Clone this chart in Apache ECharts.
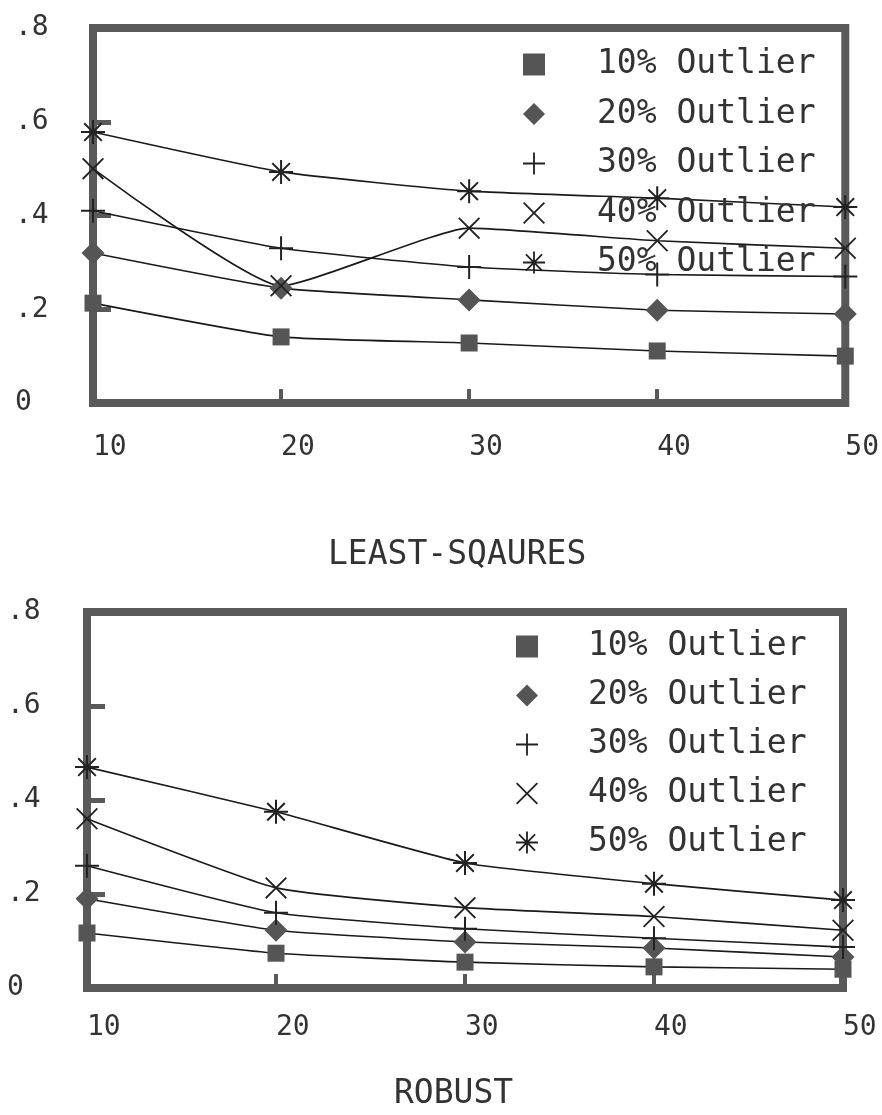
<html>
<head>
    <meta charset="utf-8">
    <title>Outlier</title>
    <script src="https://cdn.jsdelivr.net/npm/echarts@6/dist/echarts.min.js"></script>
</head>
<body style="margin:0;background:#fff;">
    <div id="main" style="width:882px;height:1115px;"></div>
    <script type="text/javascript">
    // data
    var xVals = [10, 20, 30, 40, 50];
    var names = ['10% Outlier', '20% Outlier', '30% Outlier', '40% Outlier', '50% Outlier'];
    var yTicks = [0, 0.2, 0.4, 0.6, 0.8];

    // LEAST-SQAURES
    var lsq10 = [0.213, 0.141, 0.128, 0.111, 0.100];
    var lsq20 = [0.320, 0.245, 0.220, 0.198, 0.190];
    var lsq30 = [0.410, 0.330, 0.290, 0.274, 0.270];
    var lsq40 = [0.500, 0.250, 0.373, 0.346, 0.330];
    var lsq50 = [0.578, 0.493, 0.452, 0.437, 0.418];

    // ROBUST
    var rob10 = [0.117, 0.074, 0.055, 0.045, 0.040];
    var rob20 = [0.190, 0.123, 0.098, 0.085, 0.066];
    var rob30 = [0.260, 0.160, 0.126, 0.106, 0.087];
    var rob40 = [0.360, 0.213, 0.171, 0.152, 0.123];
    var rob50 = [0.470, 0.375, 0.266, 0.222, 0.187];

    var frameColor = '#5a5a5a';
    var textColor = '#333';
    var mono = 'DejaVu Sans Mono';

    var plusPath = 'path://M11,0H13V11H24V13H13V24H11V13H0V11H11Z';
    var crossPath = 'path://M0,1.4L1.4,0L12,10.6L22.6,0L24,1.4L13.4,12L24,22.6L22.6,24L12,13.4L1.4,24L0,22.6L10.6,12Z';
    var starPath = 'path://M11,0H13V11H24V13H13V24H11V13H0V11H11Z' +
        'M2.5,3.9L3.9,2.5L12,10.6L20.1,2.5L21.5,3.9L13.4,12L21.5,20.1L20.1,21.5L12,13.4L3.9,21.5L2.5,20.1L10.6,12Z';

    var symbols = ['rect', 'diamond', plusPath, crossPath, starPath];
    var symSizes = [17, 23, 24, 22, 24];
    var symColors = ['#555', '#555', '#222', '#222', '#222'];

    function pairs(ys) {
        var out = [];
        for (var i = 0; i < xVals.length; i++) out.push([xVals[i], ys[i]]);
        return out;
    }

    function makeSeries(sets, idx) {
        return sets.map(function (ys, k) {
            return {
                name: names[k],
                type: 'line',
                xAxisIndex: idx,
                yAxisIndex: idx,
                data: pairs(ys),
                smooth: 0.15,
                symbol: symbols[k],
                symbolSize: symSizes[k],
                itemStyle: { color: symColors[k] },
                lineStyle: { color: '#1a1a1a', width: 1.6 },
                emphasis: { disabled: true },
                z: 3
            };
        });
    }

    function xAxis(idx, margin) {
        return {
            type: 'value', gridIndex: idx, min: 10, max: 50, interval: 10,
            axisLine: { show: false },
            splitLine: { show: false },
            axisTick: { inside: true, length: 14, lineStyle: { color: frameColor, width: 4 } },
            axisLabel: { align: 'left', margin: margin, color: textColor, fontFamily: mono, fontSize: 28 }
        };
    }

    function yAxis(idx, margin) {
        return {
            type: 'value', gridIndex: idx, min: 0, max: 0.8, interval: 0.2,
            axisLine: { show: false },
            splitLine: { show: false },
            axisTick: { inside: true, length: 18, lineStyle: { color: frameColor, width: 5 } },
            axisLabel: {
                align: 'left', margin: margin, color: textColor, fontFamily: mono, fontSize: 28,
                formatter: function (v) {
                    if (v === 0) return '0';
                    return String(Math.round(v * 10) / 10).replace(/^0/, '');
                }
            }
        };
    }

    function legend(left, top, gap, pad) {
        return {
            orient: 'vertical', left: left, top: top, itemGap: gap,
            itemWidth: 22, itemHeight: 22,
            selectedMode: false,
            data: names.map(function (n, k) {
                return { name: n, icon: symbols[k], itemStyle: { color: symColors[k] } };
            }),
            textStyle: { color: textColor, fontFamily: mono, fontSize: 33, lineHeight: 30, padding: [0, 0, 0, pad] }
        };
    }

    var myChart = echarts.init(document.getElementById('main'));
    var option = {
        animation: false,
        backgroundColor: '#fff',
        title: [
            { text: 'LEAST-SQAURES', left: 323, top: 534, textStyle: { color: textColor, fontFamily: mono, fontSize: 33, fontWeight: 'normal' } },
            { text: 'ROBUST', left: 389, top: 1073, textStyle: { color: textColor, fontFamily: mono, fontSize: 33, fontWeight: 'normal' } }
        ],
        grid: [
            { left: 93, top: 28, width: 759, height: 375, show: true, borderWidth: 8, borderColor: frameColor, backgroundColor: 'transparent' },
            { left: 87, top: 612, width: 756, height: 376, show: true, borderWidth: 8, borderColor: frameColor, backgroundColor: 'transparent' }
        ],
        legend: [legend(518, 43, 16.5, 47), legend(511, 625, 16, 45)],
        xAxis: [xAxis(0, 31), xAxis(1, 26)],
        yAxis: [yAxis(0, 78), yAxis(1, 80)],
        series: makeSeries([lsq10, lsq20, lsq30, lsq40, lsq50], 0)
            .concat(makeSeries([rob10, rob20, rob30, rob40, rob50], 1))
    };
    myChart.setOption(option);
    </script>
</body>
</html>
